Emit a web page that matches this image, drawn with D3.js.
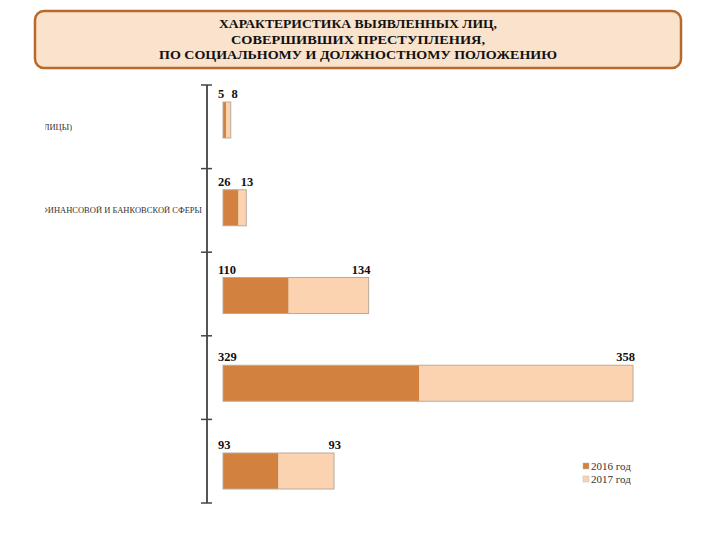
<!DOCTYPE html>
<html>
<head>
<meta charset="utf-8">
<script src="https://cdn.jsdelivr.net/npm/d3@7"></script>
<style>
  body { margin: 0; background: #fff; }
  svg { display: block; }
  svg text { font-family: 'Liberation Serif', 'DejaVu Serif', serif; }
</style>
</head>
<body>
<svg width="720" height="540"></svg>
<script>
const svg = d3.select('svg');

// data
const titleLines = [
	'ХАРАКТЕРИСТИКА ВЫЯВЛЕННЫХ ЛИЦ,',
	'СОВЕРШИВШИХ ПРЕСТУПЛЕНИЯ,',
	'ПО СОЦИАЛЬНОМУ И ДОЛЖНОСТНОМУ ПОЛОЖЕНИЮ'
];
const categories = ['cat1', 'cat2', 'cat3', 'cat4', 'cat5'];
const categoryLabels = ['ЛИЦЫ)', 'ФИНАНСОВОЙ И БАНКОВСКОЙ СФЕРЫ', '', '', ''];
const values2016 = [5, 26, 110, 329, 93];
const values2017 = [8, 13, 134, 358, 93];
const seriesNames = ['2016 год', '2017 год'];
const colors = ['#d3813f', '#fbd3b0'];

// title box
svg.append('rect')
	.attr('x', 35).attr('y', 11)
	.attr('width', 646).attr('height', 57)
	.attr('rx', 9)
	.attr('fill', '#fae3cd')
	.attr('stroke', '#b8692a')
	.attr('stroke-width', 2.5);

const titleWidths = [278, 254, 398];
svg.append('g').selectAll('text')
	.data(titleLines)
	.join('text')
	.attr('x', 358)
	.attr('y', (d, i) => 28 + i * 15.5)
	.attr('text-anchor', 'middle')
	.attr('font-size', 13.5)
	.attr('font-weight', 'bold')
	.attr('fill', '#111')
	.attr('textLength', (d, i) => titleWidths[i])
	.attr('lengthAdjust', 'spacingAndGlyphs')
	.text(d => d);

// scales
const data = categories.map((c, i) => ({ key: c, label: categoryLabels[i], a: values2016[i], b: values2017[i] }));

const xScale = d3.scaleLinear().domain([0, 687]).range([223, 633]);
const yBar = d3.scalePoint().domain(categories).range([120, 471]);
const yAxisScale = d3.scaleBand().domain(categories).range([85, 503]);
const barH = 36;

// axis
const axisX = 207;
const axisG = svg.append('g');
axisG.append('line')
	.attr('x1', axisX).attr('x2', axisX)
	.attr('y1', yAxisScale.range()[0]).attr('y2', yAxisScale.range()[1])
	.attr('stroke', '#555').attr('stroke-width', 2);
const tickYs = categories.map(c => yAxisScale(c)).concat([yAxisScale.range()[1]]);
axisG.selectAll('.tick')
	.data(tickYs)
	.join('line')
	.attr('class', 'tick')
	.attr('x1', axisX - 6).attr('x2', axisX + 5)
	.attr('y1', d => d).attr('y2', d => d)
	.attr('stroke', '#444').attr('stroke-width', 1.5);

// category labels (cut off at the left of the slide)
svg.append('clipPath').attr('id', 'labelClip')
	.append('rect').attr('x', 45).attr('y', 80).attr('width', 160).attr('height', 430);

svg.append('g').attr('clip-path', 'url(#labelClip)')
	.selectAll('text')
	.data(data)
	.join('text')
	.attr('x', (d, i) => i === 0 ? 72 : 202)
	.attr('y', d => yAxisScale(d.key) + yAxisScale.bandwidth() / 2 + 3)
	.attr('text-anchor', 'end')
	.attr('font-size', 8.5)
	.attr('fill', '#333')
	.text(d => d.label);

// bars
const barG = svg.append('g');
barG.selectAll('.bar2016')
	.data(data)
	.join('rect')
	.attr('class', 'bar2016')
	.attr('x', xScale(0))
	.attr('y', d => yBar(d.key) - barH / 2)
	.attr('width', d => xScale(d.a) - xScale(0))
	.attr('height', barH)
	.attr('fill', colors[0]);

barG.selectAll('.bar2017')
	.data(data)
	.join('rect')
	.attr('class', 'bar2017')
	.attr('x', d => xScale(d.a))
	.attr('y', d => yBar(d.key) - barH / 2)
	.attr('width', d => xScale(d.a + d.b) - xScale(d.a))
	.attr('height', barH)
	.attr('fill', colors[1]);

barG.selectAll('.outline')
	.data(data)
	.join('rect')
	.attr('class', 'outline')
	.attr('x', xScale(0))
	.attr('y', d => yBar(d.key) - barH / 2)
	.attr('width', d => xScale(d.a + d.b) - xScale(0))
	.attr('height', barH)
	.attr('fill', 'none')
	.attr('stroke', '#b9aa9c')
	.attr('stroke-width', 1);

// value labels
const labelG = svg.append('g')
	.attr('font-size', 12.5)
	.attr('font-weight', 'bold')
	.attr('fill', '#111');

labelG.selectAll('.lab2016')
	.data(data)
	.join('text')
	.attr('class', 'lab2016')
	.attr('x', xScale(0) - 5)
	.attr('y', d => yBar(d.key) - barH / 2 - 4)
	.text(d => d.a);

labelG.selectAll('.lab2017')
	.data(data)
	.join('text')
	.attr('class', 'lab2017')
	.attr('x', d => xScale(d.a + d.b) + (d.a + d.b < 200 ? 7 : 2))
	.attr('y', d => yBar(d.key) - barH / 2 - 4)
	.attr('text-anchor', 'end')
	.text(d => d.b);

// legend
const legend = svg.append('g').attr('transform', 'translate(583,463)');
const legendItems = legend.selectAll('g')
	.data(seriesNames)
	.join('g')
	.attr('transform', (d, i) => `translate(0,${i * 13})`);
legendItems.append('rect')
	.attr('width', 6).attr('height', 6)
	.attr('fill', (d, i) => colors[i])
	.attr('stroke', '#bbb').attr('stroke-width', 0.5);
legendItems.append('text')
	.attr('x', 8).attr('y', 7)
	.attr('font-size', 11)
	.attr('fill', '#333')
	.text(d => d);
</script>
</body>
</html>
